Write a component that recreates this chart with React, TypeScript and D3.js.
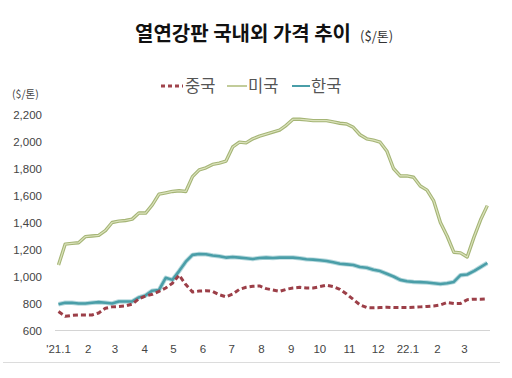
import React from "react";
import * as d3 from "d3";

const W = 512;
const H = 378;

// weekly observations, Jan 2021 – Mar 2022
const startDate = new Date(2021, 0, 1);
const weeks: Date[] = d3.range(65).map((i) => d3.timeDay.offset(startDate, 7 * i));

const china = [
  740, 705, 712, 715, 715, 715, 730, 765, 775, 778, 782, 795, 835, 855, 868, 890, 915, 950, 1010, 940,
  885, 892, 895, 890, 865, 850, 870, 905, 920, 928, 930, 910, 900, 890, 905, 915, 920, 915, 915, 925,
  935, 925, 905, 870, 830, 790, 770, 768, 770, 772, 770, 770, 770, 772, 775, 778, 782, 790, 808, 800,
  800, 828, 832, 832, 835,
];
const usa = [
  1085, 1240, 1245, 1250, 1295, 1300, 1305, 1340, 1400, 1410, 1415, 1425, 1470, 1470, 1530, 1610, 1620, 1630, 1635, 1630,
  1740, 1790, 1805, 1830, 1840, 1855, 1960, 1995, 1990, 2020, 2040, 2055, 2070, 2085, 2120, 2165, 2165, 2160, 2155, 2155,
  2155, 2145, 2135, 2130, 2105, 2050, 2020, 2010, 1995, 1930, 1800, 1745, 1745, 1735, 1670, 1640, 1560, 1400, 1300, 1180,
  1175, 1145, 1290, 1420, 1525,
];
const korea = [
  795, 805, 805, 800, 800, 805, 810, 805, 800, 815, 815, 815, 845, 860, 895, 900, 990, 975, 1040, 1110,
  1160, 1167, 1165, 1155, 1150, 1140, 1145, 1140, 1135, 1130, 1137, 1140, 1137, 1140, 1140, 1140, 1135, 1128, 1125, 1120,
  1115, 1105, 1095, 1090, 1085, 1070, 1065, 1050, 1040, 1020, 1000, 975, 965, 960, 958, 955, 950, 945, 950, 960,
  1010, 1015, 1040, 1070, 1100,
];

const yTicks = [600, 800, 1000, 1200, 1400, 1600, 1800, 2000, 2200];
const monthTicks: Date[] = d3.timeMonth.range(new Date(2021, 0, 1), new Date(2022, 3, 1));
const monthLabels = ["'21.1", "2", "3", "4", "5", "6", "7", "8", "9", "10", "11", "12", "22.1", "2", "3"];

const seriesNames = ["중국", "미국", "한국"];

const FONT = "'Noto Sans CJK KR', 'Noto Sans', sans-serif";
const NUMFONT = "'Liberation Sans Narrow', 'Liberation Sans', Arial, sans-serif";

export default function App() {
  const x = d3.scaleTime().domain([weeks[0], weeks[weeks.length - 1]]).range([58.5, 487.3]);
  const y = d3.scaleLinear().domain([600, 2200]).range([330.5, 114.5]);

  const line = d3
    .line<number>()
    .x((_, i) => x(weeks[i]))
    .y((d) => y(d))
    .curve(d3.curveLinear);

  return (
    <svg width={W} height={H} style={{ position: "absolute", left: 0, top: 0, background: "#fff" }}>
      <rect x={0} y={0} width={W} height={H} fill="#fff" />
      {/* title */}
      <text x={135} y={41} fontFamily={FONT} fontWeight={700} fontSize={20} fill="#111">
        열연강판 국내외 가격 추이
        <tspan fontSize={13} fontWeight={400} fill="#333" dx={9}>
          ($/톤)
        </tspan>
      </text>

      {/* legend */}
      <g fontFamily={FONT} fontSize={16.5} fill="#555">
        <line x1={161} x2={183} y1={86} y2={86} stroke="#a0444c" strokeWidth={3} strokeDasharray="4 3" />
        <text x={185} y={92}>{seriesNames[0]}</text>
        <line x1={227} x2={247} y1={86} y2={86} stroke="#c2cc9a" strokeWidth={2} />
        <text x={248} y={92}>{seriesNames[1]}</text>
        <line x1={292} x2={310} y1={86} y2={86} stroke="#4a9ea8" strokeWidth={2} />
        <text x={311} y={92}>{seriesNames[2]}</text>
      </g>

      {/* y unit */}
      <text x={12} y={98} fontFamily={FONT} fontSize={10.5} fill="#444">
        ($/톤)
      </text>

      {/* y ticks */}
      <g fontFamily={NUMFONT} fontSize={11.5} fill="#444" textAnchor="end">
        {yTicks.map((t) => (
          <text key={t} x={42} y={y(t) + 4}>
            {d3.format(",")(t)}
          </text>
        ))}
      </g>

      {/* baseline axis */}
      <line x1={55} x2={490} y1={y(600)} y2={y(600)} stroke="#d4d4d4" strokeWidth={1} />

      {/* x tick labels */}
      <g fontFamily={NUMFONT} fontSize={11.5} fill="#444" textAnchor="middle">
        {monthTicks.map((d, i) => (
          <text key={i} x={x(d)} y={353}>
            {monthLabels[i]}
          </text>
        ))}
      </g>

      {/* bottom rule */}
      <line x1={3} x2={500} y1={362.5} y2={362.5} stroke="#dcdcdc" strokeWidth={1} />

      {/* US line: double-stroked */}
      <path d={line(usa) || ""} fill="none" stroke="#a5b576" strokeWidth={3.4} strokeLinejoin="round" />
      <path d={line(usa) || ""} fill="none" stroke="#dbe2bc" strokeWidth={1.2} strokeLinejoin="round" />

      {/* Korea */}
      <path d={line(korea) || ""} fill="none" stroke="#b9dade" strokeWidth={4.5} strokeLinejoin="round" />
      <path d={line(korea) || ""} fill="none" stroke="#4a9ea8" strokeWidth={2.6} strokeLinejoin="round" />

      {/* China dashed */}
      <path
        d={line(china) || ""}
        fill="none"
        stroke="#9c3f48"
        strokeWidth={3}
        strokeDasharray="5 3"
        strokeLinejoin="round"
      />
    </svg>
  );
}
